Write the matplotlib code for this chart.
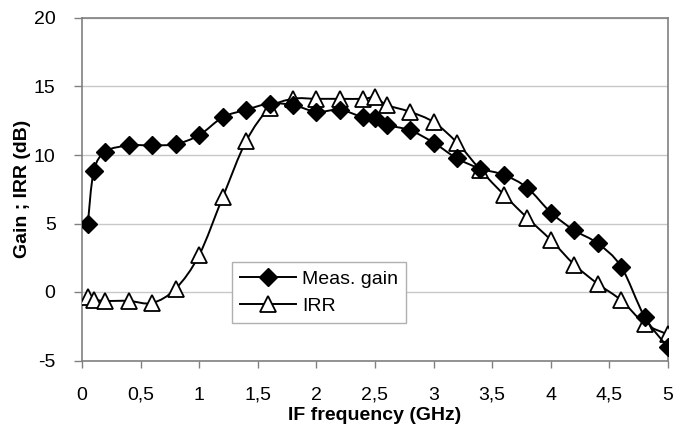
import numpy as np
import matplotlib
matplotlib.use("Agg")
import matplotlib.pyplot as plt
from matplotlib.path import Path
from matplotlib.patches import PathPatch
from matplotlib.lines import Line2D

plt.rcParams['font.family'] = ['Liberation Sans', 'DejaVu Sans']
plt.rcParams['axes.unicode_minus'] = False

# ---- data ----
freq_gain = [0.05, 0.1, 0.2, 0.4, 0.6, 0.8, 1.0, 1.2, 1.4, 1.6, 1.8, 2.0, 2.2, 2.4,
             2.5, 2.6, 2.8, 3.0, 3.2, 3.4, 3.6, 3.8, 4.0, 4.2, 4.4, 4.6, 4.8, 5.0]
gain = [5.0, 8.8, 10.25, 10.7, 10.7, 10.8, 11.45, 12.75, 13.3, 13.75, 13.65, 13.15, 13.3, 12.75,
        12.7, 12.2, 11.8, 10.9, 9.75, 9.0, 8.55, 7.6, 5.8, 4.5, 3.55, 1.85, -1.8, -4.05]

freq_irr = [0.05, 0.1, 0.2, 0.4, 0.6, 0.8, 1.0, 1.2, 1.4, 1.6, 1.8, 2.0, 2.2, 2.4,
            2.5, 2.6, 2.8, 3.0, 3.2, 3.4, 3.6, 3.8, 4.0, 4.2, 4.4, 4.6, 4.8, 5.0]
irr = [-0.35, -0.55, -0.65, -0.65, -0.8, 0.25, 2.7, 6.9, 11.0, 13.4, 14.1, 14.1, 14.1, 14.1,
       14.2, 13.65, 13.15, 12.4, 10.9, 8.9, 7.1, 5.4, 3.8, 2.0, 0.6, -0.6, -2.3, -3.1]

x_ticks = [0, 0.5, 1, 1.5, 2, 2.5, 3, 3.5, 4, 4.5, 5]
x_tick_labels = ["0", "0,5", "1", "1,5", "2", "2,5", "3", "3,5", "4", "4,5", "5"]
y_ticks = [-5, 0, 5, 10, 15, 20]
series_labels = ["Meas. gain", "IRR"]


def smooth_path(xs, ys):
    """Excel-like smoothed line: cubic Bezier through every point."""
    p = np.column_stack([xs, ys]).astype(float)
    n = len(p)
    verts = [p[0]]
    codes = [Path.MOVETO]
    for i in range(n - 1):
        pm = p[i - 1] if i > 0 else p[i]
        pp = p[i + 2] if i + 2 < n else p[i + 1]
        c1 = p[i] + (p[i + 1] - pm) / 6.0
        c2 = p[i + 1] - (pp - p[i]) / 6.0
        verts += [c1, c2, p[i + 1]]
        codes += [Path.CURVE4] * 3
    return Path(verts, codes)


fig = plt.figure(figsize=(6.87, 4.30), dpi=100)
ax = fig.add_axes([82 / 687, 1 - 360.5 / 430, 586 / 687, 342.5 / 430])

lw = 1.4
d_ms = 8.8
t_ms = 11.5
# IRR (drawn first, underneath)
ax.add_patch(PathPatch(smooth_path(freq_irr, irr), fill=False, edgecolor='black', lw=lw, zorder=3))
ax.plot(freq_irr, irr, linestyle='none', marker='^', ms=t_ms, mfc='white', mec='black',
        mew=1.3, zorder=4)
# Gain on top
ax.add_patch(PathPatch(smooth_path(freq_gain, gain), fill=False, edgecolor='black', lw=lw, zorder=5))
ax.plot(freq_gain, gain, linestyle='none', marker='D', ms=d_ms, mfc='black', mec='black',
        mew=1, zorder=6)

ax.set_xlim(0, 5)
ax.set_ylim(-5, 20)
ax.set_xticks(x_ticks)
ax.set_xticklabels(x_tick_labels)
ax.set_yticks(y_ticks)
ax.tick_params(axis='x', direction='out', length=5, width=1, color='#808080',
               pad=14, labelsize=14)
ax.tick_params(axis='y', direction='out', length=6, width=1, color='#808080',
               pad=13, labelsize=14)

for s in ax.spines.values():
    s.set_color('#808080')
    s.set_linewidth(1.2)

ax.yaxis.grid(True, color='#c8c8c8', lw=1)
ax.set_axisbelow(True)

ax.set_xlabel("IF frequency (GHz)", fontsize=14, fontweight='bold', labelpad=2)
ax.set_ylabel("Gain ; IRR (dB)", fontsize=14, fontweight='bold', labelpad=2)

h1 = Line2D([], [], color='black', lw=lw, marker='D', ms=d_ms, mfc='black', mec='black')
h2 = Line2D([], [], color='black', lw=lw, marker='^', ms=t_ms, mfc='white', mec='black', mew=1.3)
leg = ax.legend([h1, h2], series_labels, loc='upper left', bbox_to_anchor=(0.256, 0.287),
                fontsize=14, frameon=True, fancybox=False, edgecolor='#b0b0b0',
                handlelength=2.9, handletextpad=0.3, labelspacing=0.5, borderpad=0.4,
                borderaxespad=0, framealpha=1)
leg.get_frame().set_linewidth(1)
leg.set_zorder(10)

fig.savefig("out.png", dpi=100)
